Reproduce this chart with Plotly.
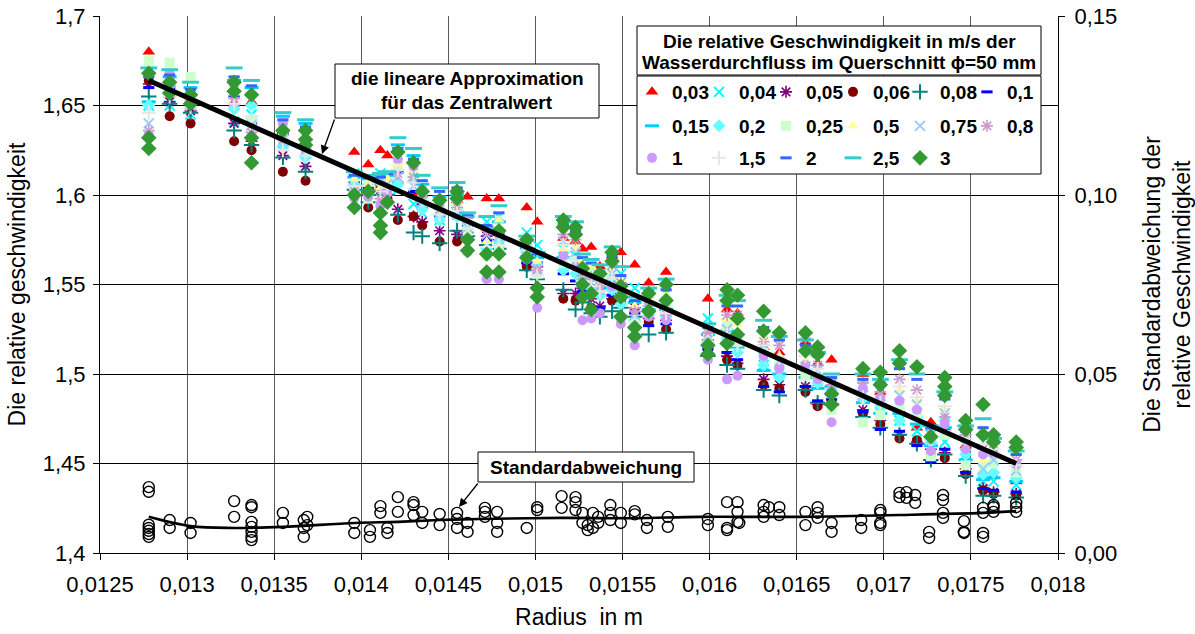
import plotly.graph_objects as go

FONT = "Liberation Sans, Arial, sans-serif"

# ---------------- data ----------------
RADIUS = [0.01278, 0.01290, 0.01302, 0.01327, 0.01337, 0.01355, 0.01368, 0.01396, 0.01404, 0.01411,
          0.01415, 0.01421, 0.01430, 0.01435, 0.01445, 0.01455, 0.01461, 0.01472, 0.01479, 0.01495,
          0.01501, 0.01516, 0.01523, 0.01527, 0.01532, 0.01537, 0.01544, 0.01549, 0.01557, 0.01565,
          0.01575, 0.01599, 0.01610, 0.01616, 0.01631, 0.01640, 0.01655, 0.01662, 0.01670, 0.01688,
          0.01698, 0.01709, 0.01719, 0.01727, 0.01735, 0.01747, 0.01757, 0.01763, 0.01776]

V_003 = [1.680, 1.656, 1.650, 1.651, 1.652, 1.636, 1.632, 1.624, 1.617, 1.625,
         1.622, 1.608, 1.600, 1.594, 1.590, 1.597, 1.599, 1.598, 1.598, 1.593,
         1.585, 1.576, 1.574, 1.570, 1.571, 1.560, 1.566, 1.568, 1.561, 1.551,
         1.557, 1.542, 1.536, 1.534, 1.515, 1.512, 1.518, 1.506, 1.508, 1.500,
         1.490, 1.480, 1.470, 1.473, 1.470, 1.460, 1.442, 1.443, 1.440]
V_004 = [1.650, 1.650, 1.645, 1.641, 1.645, 1.630, 1.623, 1.612, 1.608, 1.612,
         1.610, 1.603, 1.595, 1.590, 1.586, 1.590, 1.586, 1.585, 1.588, 1.579,
         1.572, 1.570, 1.566, 1.562, 1.559, 1.555, 1.553, 1.556, 1.548, 1.545,
         1.545, 1.531, 1.528, 1.520, 1.505, 1.501, 1.500, 1.496, 1.495, 1.493,
         1.483, 1.474, 1.468, 1.466, 1.462, 1.455, 1.440, 1.440, 1.438]
V_005 = [1.662, 1.652, 1.647, 1.640, 1.630, 1.622, 1.616, 1.605, 1.600, 1.603,
         1.604, 1.592, 1.588, 1.585, 1.580, 1.578, 1.579, 1.577, 1.575, 1.566,
         1.560, 1.545, 1.545, 1.548, 1.542, 1.538, 1.542, 1.545, 1.537, 1.531,
         1.530, 1.519, 1.510, 1.506, 1.497, 1.494, 1.493, 1.483, 1.488, 1.480,
         1.474, 1.466, 1.462, 1.458, 1.456, 1.447, 1.436, 1.434, 1.433]
V_006 = [1.664, 1.644, 1.640, 1.630, 1.625, 1.613, 1.608, 1.600, 1.593, 1.605,
         1.598, 1.586, 1.588, 1.583, 1.574, 1.574, 1.576, 1.573, 1.571, 1.560,
         1.557, 1.542, 1.541, 1.545, 1.537, 1.535, 1.541, 1.540, 1.536, 1.529,
         1.525, 1.513, 1.508, 1.505, 1.494, 1.492, 1.490, 1.482, 1.485, 1.478,
         1.472, 1.464, 1.463, 1.455, 1.453, 1.444, 1.435, 1.433, 1.432]
V_008 = [1.655, 1.651, 1.646, 1.636, 1.628, 1.621, 1.613, 1.603, 1.596, 1.600,
         1.600, 1.589, 1.579, 1.577, 1.573, 1.580, 1.577, 1.572, 1.570, 1.558,
         1.553, 1.547, 1.536, 1.540, 1.534, 1.532, 1.535, 1.537, 1.532, 1.522,
         1.523, 1.510, 1.505, 1.503, 1.491, 1.488, 1.491, 1.484, 1.483, 1.476,
         1.470, 1.466, 1.461, 1.452, 1.455, 1.443, 1.432, 1.432, 1.431]
V_01 = [1.660, 1.660, 1.652, 1.655, 1.640, 1.634, 1.628, 1.607, 1.604, 1.606,
        1.607, 1.613, 1.602, 1.595, 1.588, 1.590, 1.583, 1.575, 1.578, 1.562,
        1.562, 1.556, 1.552, 1.546, 1.545, 1.537, 1.544, 1.542, 1.534, 1.527,
        1.528, 1.514, 1.512, 1.508, 1.493, 1.490, 1.493, 1.485, 1.486, 1.479,
        1.469, 1.468, 1.460, 1.451, 1.458, 1.445, 1.436, 1.435, 1.434]
V_015 = [1.652, 1.666, 1.660, 1.664, 1.660, 1.644, 1.640, 1.610, 1.609, 1.609,
         1.611, 1.628, 1.622, 1.606, 1.599, 1.600, 1.588, 1.582, 1.585, 1.570,
         1.565, 1.565, 1.560, 1.556, 1.553, 1.548, 1.552, 1.550, 1.540, 1.536,
         1.536, 1.522, 1.524, 1.515, 1.502, 1.500, 1.498, 1.492, 1.493, 1.484,
         1.478, 1.478, 1.472, 1.460, 1.470, 1.452, 1.441, 1.442, 1.440]
V_02 = [1.650, 1.662, 1.656, 1.648, 1.650, 1.627, 1.621, 1.606, 1.606, 1.607,
        1.608, 1.606, 1.608, 1.592, 1.586, 1.588, 1.584, 1.570, 1.574, 1.568,
        1.561, 1.558, 1.556, 1.553, 1.548, 1.544, 1.547, 1.539, 1.530, 1.533,
        1.532, 1.517, 1.520, 1.512, 1.505, 1.498, 1.502, 1.495, 1.491, 1.486,
        1.481, 1.474, 1.476, 1.462, 1.474, 1.455, 1.444, 1.445, 1.442]
V_025 = [1.675, 1.674, 1.666, 1.660, 1.642, 1.632, 1.627, 1.603, 1.598, 1.596,
         1.605, 1.616, 1.612, 1.598, 1.592, 1.594, 1.580, 1.566, 1.569, 1.572,
         1.556, 1.562, 1.563, 1.560, 1.556, 1.552, 1.555, 1.546, 1.528, 1.540,
         1.538, 1.520, 1.527, 1.518, 1.512, 1.505, 1.499, 1.498, 1.480, 1.473,
         1.477, 1.482, 1.478, 1.454, 1.466, 1.449, 1.449, 1.450, 1.445]
V_05 = [1.668, 1.664, 1.655, 1.657, 1.657, 1.638, 1.634, 1.609, 1.607, 1.604,
        1.609, 1.617, 1.614, 1.600, 1.594, 1.596, 1.585, 1.574, 1.586, 1.574,
        1.563, 1.570, 1.571, 1.563, 1.560, 1.550, 1.558, 1.553, 1.538, 1.543,
        1.544, 1.524, 1.531, 1.528, 1.520, 1.510, 1.508, 1.500, 1.496, 1.490,
        1.488, 1.491, 1.485, 1.467, 1.480, 1.462, 1.452, 1.455, 1.448]
V_075 = [1.640, 1.658, 1.650, 1.652, 1.639, 1.629, 1.625, 1.604, 1.603, 1.608,
         1.606, 1.610, 1.605, 1.596, 1.590, 1.589, 1.582, 1.578, 1.577, 1.570,
         1.559, 1.574, 1.568, 1.557, 1.551, 1.547, 1.556, 1.548, 1.533, 1.537,
         1.535, 1.521, 1.525, 1.520, 1.514, 1.507, 1.504, 1.502, 1.490, 1.488,
         1.485, 1.488, 1.483, 1.463, 1.478, 1.460, 1.447, 1.452, 1.446]
V_08 = [1.636, 1.661, 1.653, 1.654, 1.635, 1.631, 1.626, 1.602, 1.601, 1.598,
        1.603, 1.612, 1.610, 1.599, 1.592, 1.593, 1.587, 1.580, 1.579, 1.571,
        1.558, 1.578, 1.575, 1.555, 1.554, 1.549, 1.561, 1.551, 1.535, 1.538,
        1.533, 1.523, 1.533, 1.533, 1.518, 1.516, 1.520, 1.505, 1.494, 1.495,
        1.490, 1.497, 1.491, 1.469, 1.476, 1.466, 1.458, 1.461, 1.452]
V_1 = [1.634, 1.668, 1.657, 1.662, 1.633, 1.640, 1.630, 1.598, 1.599, 1.594,
       1.601, 1.620, 1.616, 1.603, 1.596, 1.598, 1.568, 1.553, 1.553, 1.564,
       1.537, 1.566, 1.560, 1.530, 1.531, 1.534, 1.549, 1.528, 1.516, 1.532,
       1.530, 1.508, 1.497, 1.499, 1.510, 1.503, 1.505, 1.497, 1.473, 1.492,
       1.486, 1.485, 1.480, 1.457, 1.472, 1.458, 1.455, 1.456, 1.450]
V_15 = [1.646, 1.655, 1.649, 1.651, 1.644, 1.625, 1.622, 1.605, 1.605, 1.602,
        1.604, 1.614, 1.607, 1.597, 1.589, 1.591, 1.581, 1.571, 1.572, 1.569,
        1.555, 1.572, 1.565, 1.552, 1.549, 1.546, 1.554, 1.544, 1.529, 1.535,
        1.534, 1.518, 1.522, 1.516, 1.516, 1.509, 1.510, 1.503, 1.487, 1.487,
        1.484, 1.493, 1.487, 1.464, 1.482, 1.464, 1.461, 1.458, 1.449]
V_2 = [1.666, 1.667, 1.659, 1.666, 1.661, 1.642, 1.638, 1.611, 1.610, 1.610,
       1.612, 1.626, 1.620, 1.608, 1.602, 1.604, 1.589, 1.583, 1.590, 1.575,
       1.567, 1.584, 1.580, 1.565, 1.562, 1.557, 1.566, 1.555, 1.541, 1.546,
       1.547, 1.526, 1.538, 1.538, 1.526, 1.519, 1.516, 1.510, 1.498, 1.497,
       1.495, 1.503, 1.497, 1.470, 1.486, 1.468, 1.470, 1.462, 1.455]
V_25 = [1.671, 1.670, 1.663, 1.671, 1.664, 1.646, 1.642, 1.613, 1.611, 1.612,
        1.613, 1.632, 1.626, 1.611, 1.604, 1.607, 1.590, 1.588, 1.594, 1.577,
        1.568, 1.588, 1.585, 1.567, 1.564, 1.561, 1.571, 1.560, 1.543, 1.548,
        1.553, 1.528, 1.544, 1.541, 1.530, 1.521, 1.519, 1.512, 1.500, 1.500,
        1.497, 1.508, 1.500, 1.471, 1.490, 1.471, 1.475, 1.464, 1.457]
V_3 = [1.668, 1.663, 1.656, 1.663, 1.656, 1.636, 1.636, 1.600, 1.602, 1.590,
       1.596, 1.624, 1.618, 1.602, 1.597, 1.602, 1.575, 1.567, 1.580, 1.575,
       1.548, 1.586, 1.582, 1.559, 1.545, 1.556, 1.568, 1.549, 1.526, 1.545,
       1.550, 1.516, 1.547, 1.544, 1.535, 1.523, 1.523, 1.515, 1.489, 1.503,
       1.501, 1.513, 1.504, 1.465, 1.498, 1.474, 1.483, 1.466, 1.462]
V_3_B = [1.632, 1.657, 1.651, 1.658, 1.632, None, 1.631, 1.593, None, 1.583,
         None, None, None, None, None, 1.598, 1.569, 1.557, 1.567, 1.565,
         1.543, 1.582, 1.578, 1.550, 1.536, None, 1.563, 1.543, 1.521, 1.535,
         1.541, 1.511, 1.541, 1.531, 1.524, None, 1.513, 1.511, 1.483, None,
         1.494, 1.506, None, None, 1.493, 1.469, 1.466, 1.462, 1.459]
V_3_C = [1.626, None, None, None, 1.618, None, 1.628, None, None, 1.579,
         None, None, None, None, None, None, None, None, 1.557, None,
         None, None, None, 1.543, None, None, None, 1.532, None, None,
         None, None, 1.517, 1.522, None, None, None, None, None, None,
         None, None, None, None, 1.488, None, None, None, None]

SERIES_NAMES = ["0,03", "0,04", "0,05", "0,06", "0,08", "0,1",
                "0,15", "0,2", "0,25", "0,5", "0,75", "0,8",
                "1", "1,5", "2", "2,5", "3"]

# linear approximation of the central value
LIN_R = [0.01278, 0.01776]
LIN_V = [1.664, 1.450]

# standard deviation (right axis)
STD_R = [0.01278, 0.01278, 0.01278, 0.01278, 0.01278, 0.01278, 0.01278,
         0.01290, 0.01290, 0.01302, 0.01302, 0.01327, 0.01327,
         0.01337, 0.01337, 0.01337, 0.01337, 0.01337, 0.01337, 0.01337,
         0.01355, 0.01355, 0.01367, 0.01367, 0.01367, 0.01369, 0.01369,
         0.01396, 0.01396, 0.01405, 0.01405, 0.01411, 0.01411, 0.01415, 0.01415,
         0.01421, 0.01421, 0.01430, 0.01430, 0.01430, 0.01435, 0.01435,
         0.01445, 0.01445, 0.01455, 0.01455, 0.01455, 0.01461, 0.01461,
         0.01471, 0.01471, 0.01471, 0.01478, 0.01478, 0.01478, 0.01495,
         0.01501, 0.01501, 0.01515, 0.01515, 0.01523, 0.01523, 0.01523,
         0.01527, 0.01527, 0.01530, 0.01530, 0.01533, 0.01533, 0.01536, 0.01536,
         0.01543, 0.01543, 0.01543, 0.01549, 0.01549, 0.01557, 0.01557,
         0.01564, 0.01564, 0.01576, 0.01576, 0.01599, 0.01599,
         0.01610, 0.01610, 0.01610, 0.01616, 0.01616, 0.01616, 0.01617,
         0.01631, 0.01631, 0.01631, 0.01634, 0.01640, 0.01640,
         0.01655, 0.01655, 0.01662, 0.01662, 0.01662, 0.01670, 0.01670,
         0.01687, 0.01687, 0.01698, 0.01698, 0.01698, 0.01698,
         0.01709, 0.01709, 0.01713, 0.01713, 0.01718, 0.01718, 0.01726, 0.01726,
         0.01734, 0.01734, 0.01734, 0.01734, 0.01746, 0.01746, 0.01746,
         0.01757, 0.01757, 0.01757, 0.01757, 0.01763, 0.01763, 0.01763,
         0.01776, 0.01776, 0.01776]
STD_V = [0.0184, 0.0171, 0.0079, 0.0070, 0.0062, 0.0053, 0.0045,
         0.0092, 0.0070, 0.0084, 0.0056, 0.0145, 0.0101,
         0.0134, 0.0128, 0.0087, 0.0073, 0.0059, 0.0045, 0.0036,
         0.0112, 0.0084, 0.0092, 0.0070, 0.0045, 0.0101, 0.0078,
         0.0084, 0.0056, 0.0064, 0.0045, 0.0131, 0.0112, 0.0070, 0.0056,
         0.0156, 0.0115, 0.0142, 0.0134, 0.0106, 0.0115, 0.0084,
         0.0109, 0.0078, 0.0112, 0.0095, 0.0070, 0.0084, 0.0059,
         0.0126, 0.0115, 0.0101, 0.0115, 0.0084, 0.0059, 0.0070,
         0.0128, 0.0120, 0.0159, 0.0126, 0.0156, 0.0142, 0.0120,
         0.0112, 0.0084, 0.0078, 0.0064, 0.0112, 0.0070, 0.0101, 0.0084,
         0.0134, 0.0112, 0.0092, 0.0112, 0.0084, 0.0117, 0.0108,
         0.0092, 0.0070, 0.0101, 0.0073, 0.0095, 0.0078,
         0.0142, 0.0070, 0.0064, 0.0142, 0.0115, 0.0087, 0.0084,
         0.0134, 0.0115, 0.0101, 0.0128, 0.0128, 0.0106,
         0.0115, 0.0078, 0.0128, 0.0112, 0.0098, 0.0084, 0.0059,
         0.0092, 0.0070, 0.0120, 0.0112, 0.0084, 0.0078,
         0.0168, 0.0156, 0.0170, 0.0154, 0.0162, 0.0140, 0.0059, 0.0042,
         0.0162, 0.0148, 0.0112, 0.0098, 0.0089, 0.0059, 0.0056,
         0.0126, 0.0112, 0.0056, 0.0045, 0.0134, 0.0128, 0.0115,
         0.0140, 0.0128, 0.0115]
assert len(STD_R) == len(STD_V)

# smooth trend of the standard deviation
STD_TREND_R = [0.01278, 0.01302, 0.01327, 0.01355, 0.01396, 0.01421, 0.01445, 0.01468,
               0.01515, 0.01557, 0.01594, 0.01652, 0.01709, 0.01757, 0.01776]
STD_TREND_V = [0.0101, 0.0075, 0.0070, 0.0073, 0.0084, 0.0087, 0.0092, 0.0095,
               0.0098, 0.0097, 0.0101, 0.0101, 0.0106, 0.0112, 0.0117]

X_TICKS = [0.0125, 0.013, 0.0135, 0.014, 0.0145, 0.015, 0.0155, 0.016, 0.0165, 0.017, 0.0175, 0.018]
X_LABELS = ["0,0125", "0,013", "0,0135", "0,014", "0,0145", "0,015", "0,0155", "0,016",
            "0,0165", "0,017", "0,0175", "0,018"]
Y_TICKS = [1.4, 1.45, 1.5, 1.55, 1.6, 1.65, 1.7]
Y_LABELS = ["1,4", "1,45", "1,5", "1,55", "1,6", "1,65", "1,7"]
Y2_TICKS = [0, 0.05, 0.1, 0.15]
Y2_LABELS = ["0,00", "0,05", "0,10", "0,15"]

# ---------------- styles ----------------
# (symbol, colour, size, line width)
STYLES = [
    ("triangle-up", "#FF0000", 11, 0),
    ("x-thin-open", "#00FFFF", 10, 2),
    ("asterisk-open", "#800080", 10, 1.6),
    ("circle", "#800000", 10, 0),
    ("cross-thin-open", "#008080", 11, 2),
    ("line-ew-open", "#0000FF", 8, 3),
    ("line-ew-open", "#00CCFF", 10, 3),
    ("diamond", "#66FFFF", 10, 0),
    ("square", "#CCFFCC", 10, 0),
    ("triangle-up", "#FFFF99", 10, 0),
    ("x-thin-open", "#99CCFF", 10, 2),
    ("asterisk-open", "#CC99CC", 10, 1.6),
    ("circle", "#CC99FF", 10, 0),
    ("cross-thin-open", "#E6E6E6", 10, 2),
    ("line-ew-open", "#3366FF", 8, 3),
    ("line-ew-open", "#33CCCC", 12, 3),
    ("diamond", "#339933", 12, 0),
]

green_vals = V_3 + V_3_B + V_3_C
green_r = [r for r, v in zip(RADIUS * 3, green_vals) if v is not None]
green_v = [v for v in green_vals if v is not None]

SERIES = [V_003, V_004, V_005, V_006, V_008, V_01, V_015, V_02, V_025, V_05,
          V_075, V_08, V_1, V_15, V_2, V_25, None]

fig = go.Figure()

for i, (name, vals, st) in enumerate(zip(SERIES_NAMES, SERIES, STYLES)):
    sym, col, size, lw = st
    if vals is None:
        xs, ys = green_r, green_v
    else:
        xs, ys = RADIUS, vals
    legend_id = "legend" if i < 6 else ("legend2" if i < 12 else "legend3")
    marker = dict(symbol=sym, color=col, size=size)
    if lw:
        marker["line"] = dict(color=col, width=lw)
    else:
        marker["line"] = dict(width=0)
    fig.add_trace(go.Scatter(x=xs, y=ys, mode="markers", name=name, marker=marker,
                             legend=legend_id, hoverinfo="skip"))

# linear approximation line
fig.add_trace(go.Scatter(x=LIN_R, y=LIN_V, mode="lines", line=dict(color="black", width=5),
                         showlegend=False, hoverinfo="skip"))

# standard deviation points + trend (right axis)
fig.add_trace(go.Scatter(x=STD_R, y=STD_V, mode="markers", yaxis="y2", showlegend=False,
                         marker=dict(symbol="circle-open", color="black", size=11,
                                     line=dict(color="black", width=1.4)),
                         hoverinfo="skip"))
fig.add_trace(go.Scatter(x=STD_TREND_R, y=STD_TREND_V, mode="lines", yaxis="y2",
                         line=dict(color="black", width=2.6, shape="spline", smoothing=1.0),
                         showlegend=False, hoverinfo="skip"))

# ---------------- layout helpers ----------------
L, R, T, B = 100, 137, 16, 81
W, H = 1195, 634
PW, PH = W - L - R, H - T - B


def px_x(px):
    return (px - L) / PW


def px_y(py):
    return (H - B - py) / PH


def rect(x0, y0, x1, y1):
    return dict(type="rect", xref="paper", yref="paper",
                x0=px_x(x0), x1=px_x(x1), y0=px_y(y1), y1=px_y(y0),
                line=dict(color="black", width=1), fillcolor="white", layer="above")


def text(x, y, s, size=19):
    return dict(xref="paper", yref="paper", x=px_x(x), y=px_y(y), text=s, showarrow=False,
                xanchor="center", yanchor="middle",
                font=dict(family=FONT, size=size, color="black", weight="bold"))


def arrow(tipx, tipy, tailx, taily):
    return dict(xref="paper", yref="paper", x=px_x(tipx), y=px_y(tipy), text="",
                showarrow=True, axref="pixel", ayref="pixel",
                ax=tailx - tipx, ay=taily - tipy,
                arrowhead=2, arrowsize=1.3, arrowwidth=1.3, arrowcolor="black",
                standoff=0, startstandoff=0)


shapes = [
    rect(335, 64, 599, 118),
    rect(478, 452, 694, 482),
    rect(637, 26, 1041, 75),
    rect(637, 76, 1041, 174),
]
annotations = [
    text(467, 78, "die lineare Approximation"),
    text(467, 102, "für das Zentralwert"),
    text(586, 467, "Standardabweichung"),
    text(839, 42, "Die relative Geschwindigkeit in m/s der"),
    text(839, 63, "Wasserdurchfluss im Querschnitt ϕ=50 mm"),
    arrow(322, 154, 335, 118),
    arrow(459, 507, 479, 482),
]


def legend_row(py):
    return dict(orientation="h", x=px_x(632), y=px_y(py), xanchor="left", yanchor="middle",
                entrywidth=22, entrywidthmode="pixels", bgcolor="rgba(0,0,0,0)",
                borderwidth=0, itemclick=False, itemdoubleclick=False,
                font=dict(family=FONT, size=19, color="black", weight="bold"),
                tracegroupgap=0)


axis_common = dict(showline=True, linecolor="black", linewidth=1, ticks="outside",
                   ticklen=6, tickcolor="black", tickwidth=1, zeroline=False, automargin=False,
                   tickfont=dict(family=FONT, size=22, color="black"))

fig.update_layout(
    width=W, height=H,
    margin=dict(l=L, r=R, t=T, b=B, pad=0, autoexpand=False),
    paper_bgcolor="white", plot_bgcolor="white",
    font=dict(family=FONT, size=22, color="black"),
    separators=", ",
    showlegend=True,
    legend=legend_row(92),
    legend2=legend_row(126),
    legend3=legend_row(158),
    shapes=shapes,
    annotations=annotations,
    xaxis=dict(range=[0.0125, 0.018], tickmode="array", tickvals=X_TICKS, ticktext=X_LABELS,
               showgrid=True, gridcolor="#5a5a5a", gridwidth=1, ticklabelstandoff=6,
               title=dict(text="Radius\u00a0 in m", font=dict(family=FONT, size=23), standoff=12),
               **axis_common),
    yaxis=dict(range=[1.4, 1.7], tickmode="array", tickvals=Y_TICKS, ticktext=Y_LABELS,
               showgrid=True, gridcolor="black", gridwidth=1, ticklabelstandoff=3,
               title=dict(text="Die relative geschwindigkeit", font=dict(family=FONT, size=23),
                          standoff=10),
               **axis_common),
    yaxis2=dict(range=[0, 0.15], overlaying="y", side="right", tickmode="array",
                tickvals=Y2_TICKS, ticktext=Y2_LABELS, showgrid=False, ticklabelstandoff=5,
                title=dict(text="Die Standardabweichung der<br>relative Geschwindigkeit",
                           font=dict(family=FONT, size=23), standoff=28),
                **axis_common),
)

fig.write_html("out.html")
